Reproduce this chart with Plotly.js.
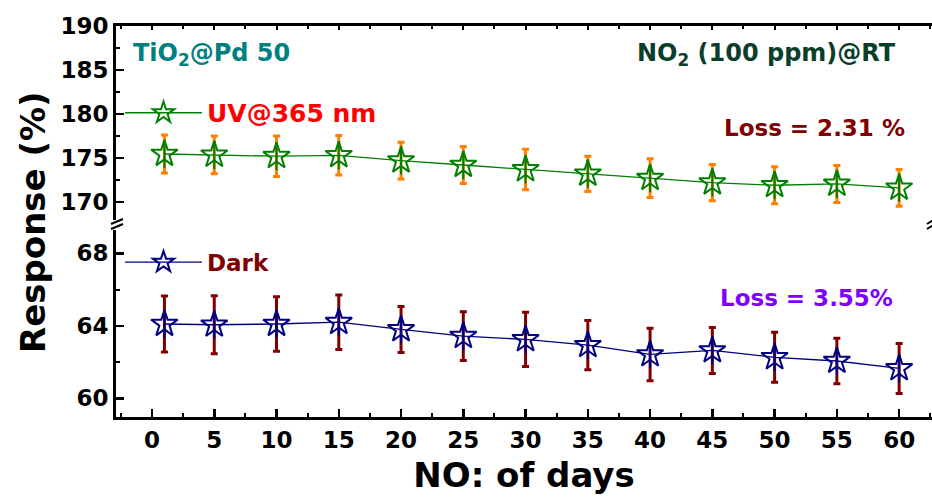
<!DOCTYPE html>
<html>
<head>
<meta charset="utf-8">
<script src="https://cdn.plot.ly/plotly-3.0.1.min.js"></script>
<style>
  html, body { margin: 0; padding: 0; background: #fff; overflow: hidden; }
  #chart { width: 932px; height: 502px; }
</style>
</head>
<body>
<div id="chart"></div>
<script>
// ---- data ----
const days = [1, 5, 10, 15, 20, 25, 30, 35, 40, 45, 50, 55, 60];
const uvResponse = [175.45, 175.35, 175.2, 175.3, 174.7, 174.2, 173.7, 173.2, 172.7, 172.2, 171.9, 172.05, 171.6];
const uvError = [2.15, 2.15, 2.3, 2.25, 2.1, 2.1, 2.3, 2.0, 2.2, 2.05, 2.1, 2.1, 2.1];
const darkResponse = [64.1, 64.06, 64.1, 64.2, 63.8, 63.43, 63.25, 62.93, 62.42, 62.64, 62.26, 62.06, 61.65];
const darkError = [1.55, 1.6, 1.5, 1.5, 1.27, 1.35, 1.5, 1.36, 1.45, 1.27, 1.38, 1.26, 1.38];
const uvName = 'UV@365 nm';
const darkName = 'Dark';
const xTitle = 'NO: of days';
const yTitle = 'Response (%)';
const sampleLabel = 'TiO<sub>2</sub>@Pd 50';
const gasLabel = 'NO<sub>2</sub> (100 ppm)@RT';
const uvLoss = 'Loss = 2.31 %';
const darkLoss = 'Loss = 3.55%';

const FONT = 'DejaVu Sans, Arial, sans-serif';
const GREEN = '#008000', ORANGE = '#FF8000', NAVY = '#000080', MAROON = '#800000';

const traces = [
  {
    x: days, y: uvResponse, xaxis: 'x2', yaxis: 'y2', name: uvName, legend: 'legend',
    type: 'scatter', mode: 'lines+markers',
    line: {color: GREEN, width: 1.3},
    marker: {symbol: 'star-open', size: 20, color: GREEN, line: {width: 2, color: GREEN}},
    error_y: {type: 'data', array: uvError, visible: true, color: ORANGE, thickness: 3, width: 3.5}
  },
  {
    x: days, y: uvResponse, xaxis: 'x2', yaxis: 'y2', showlegend: false, hoverinfo: 'skip',
    type: 'scatter', mode: 'markers',
    marker: {symbol: 'line-ns-open', size: 20, color: GREEN, line: {width: 2, color: GREEN}}
  },
  {
    x: days, y: darkResponse, xaxis: 'x', yaxis: 'y', name: darkName, legend: 'legend2',
    type: 'scatter', mode: 'lines+markers',
    line: {color: NAVY, width: 1.3},
    marker: {symbol: 'star-open', size: 20, color: NAVY, line: {width: 2, color: NAVY}},
    error_y: {type: 'data', array: darkError, visible: true, color: MAROON, thickness: 3, width: 3.5}
  },
  {
    x: days, y: darkResponse, xaxis: 'x', yaxis: 'y', showlegend: false, hoverinfo: 'skip',
    type: 'scatter', mode: 'markers',
    marker: {symbol: 'line-ns-open', size: 20, color: NAVY, line: {width: 2, color: NAVY}}
  }
];

const tickFont = {family: FONT, size: 23, color: '#000', weight: 'bold'};
const xRange = [-2.89, 62.64];
const common = {
  showgrid: false, zeroline: false, showline: true, linecolor: '#000', linewidth: 3,
  ticks: 'inside', ticklen: 8, tickwidth: 2.5, tickcolor: '#000', tickfont: tickFont
};

const layout = {
  width: 932, height: 502,
  margin: {l: 116, r: 0, t: 26, b: 85},
  paper_bgcolor: '#fff', plot_bgcolor: '#fff',
  xaxis: Object.assign({}, common, {
    domain: [0, 1], anchor: 'y', range: xRange, tick0: 0, dtick: 5,
    minor: {dtick: 2.5, ticks: 'inside', ticklen: 4, tickwidth: 2, tickcolor: '#000'},
    title: {text: xTitle, font: {family: FONT, size: 34, color: '#000', weight: 'bold'}, standoff: 12}
  }),
  xaxis2: Object.assign({}, common, {
    domain: [0, 1], anchor: 'y2', matches: 'x', range: xRange, side: 'top', showticklabels: false,
    tick0: 0, dtick: 5, ticklen: 4, tickwidth: 2,
    minor: {dtick: 2.5, ticks: 'inside', ticklen: 3, tickwidth: 2, tickcolor: '#000'}
  }),
  yaxis: Object.assign({}, common, {
    domain: [0, 0.478], anchor: 'x', range: [58.97, 69.28], tick0: 60, dtick: 4,
    minor: {dtick: 2, ticks: 'inside', ticklen: 4, tickwidth: 2, tickcolor: '#000'}
  }),
  yaxis2: Object.assign({}, common, {
    domain: [0.505, 1], anchor: 'x2', range: [168, 190], tick0: 170, dtick: 5,
    minor: {dtick: 2.5, ticks: 'inside', ticklen: 4, tickwidth: 2, tickcolor: '#000'}
  }),
  legend: {
    x: 0.0049, y: 0.7775, xanchor: 'left', yanchor: 'middle', bgcolor: 'rgba(0,0,0,0)',
    borderwidth: 0, itemwidth: 77,
    font: {family: FONT, size: 25, color: '#FF0000', weight: 'bold'}
  },
  legend2: {
    x: 0.0049, y: 0.396, xanchor: 'left', yanchor: 'middle', bgcolor: 'rgba(0,0,0,0)',
    borderwidth: 0, itemwidth: 77,
    font: {family: FONT, size: 23, color: MAROON, weight: 'bold'}
  },
  annotations: [
    {text: yTitle, xref: 'paper', yref: 'paper', x: -0.1017, y: 0.4987, textangle: -90,
     showarrow: false, xanchor: 'center', yanchor: 'middle',
     font: {family: FONT, size: 34, color: '#000', weight: 'bold'}},
    {text: sampleLabel, xref: 'paper', yref: 'paper', x: 0.0184, y: 0.926, showarrow: false,
     xanchor: 'left', yanchor: 'middle', font: {family: FONT, size: 24, color: '#008080', weight: 'bold'}},
    {text: gasLabel, xref: 'paper', yref: 'paper', x: 0.958, y: 0.926, showarrow: false,
     xanchor: 'right', yanchor: 'middle', font: {family: FONT, size: 24, color: '#0B3D2B', weight: 'bold'}},
    {text: uvLoss, xref: 'paper', yref: 'paper', x: 0.9694, y: 0.739, showarrow: false,
     xanchor: 'right', yanchor: 'middle', font: {family: FONT, size: 23, color: MAROON, weight: 'bold'}},
    {text: darkLoss, xref: 'paper', yref: 'paper', x: 0.9547, y: 0.3043, showarrow: false,
     xanchor: 'right', yanchor: 'middle', font: {family: FONT, size: 23, color: '#8000FF', weight: 'bold'}}
  ],
  shapes: [
    {type: 'line', xref: 'paper', yref: 'paper', xsizemode: 'pixel', ysizemode: 'pixel',
     xanchor: 0, yanchor: 0.4987, x0: -5, x1: 7, y0: -2, y1: 3, line: {color: '#000', width: 2}},
    {type: 'line', xref: 'paper', yref: 'paper', xsizemode: 'pixel', ysizemode: 'pixel',
     xanchor: 0, yanchor: 0.4859, x0: -5, x1: 7, y0: -2, y1: 3, line: {color: '#000', width: 2}},
    {type: 'line', xref: 'paper', yref: 'paper', xsizemode: 'pixel', ysizemode: 'pixel',
     xanchor: 0.9975, yanchor: 0.4987, x0: -3, x1: 5, y0: -2, y1: 3, line: {color: '#000', width: 2}},
    {type: 'line', xref: 'paper', yref: 'paper', xsizemode: 'pixel', ysizemode: 'pixel',
     xanchor: 0.9975, yanchor: 0.4859, x0: -3, x1: 5, y0: -2, y1: 3, line: {color: '#000', width: 2}}
  ]
};

Plotly.newPlot('chart', traces, layout, {staticPlot: true, displayModeBar: false});
</script>
</body>
</html>
